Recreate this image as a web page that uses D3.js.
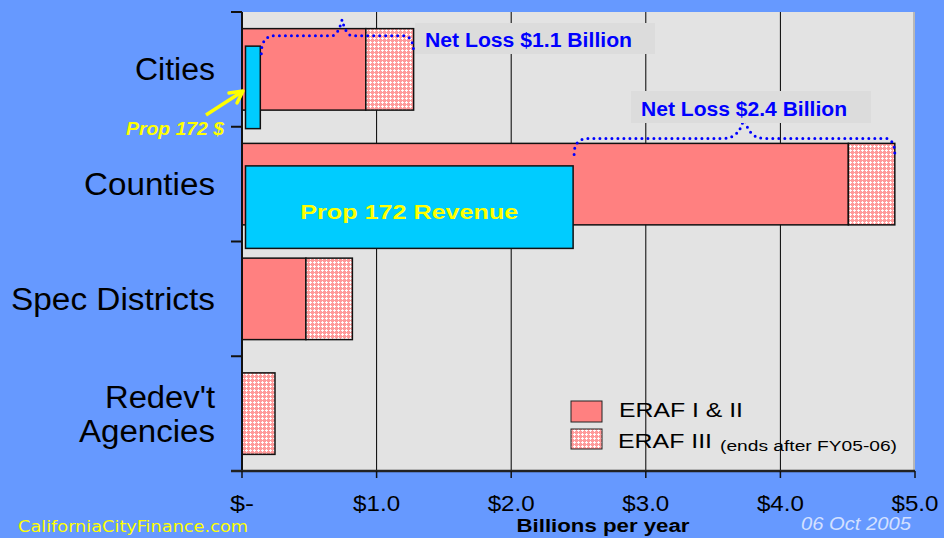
<!DOCTYPE html>
<html><head><meta charset="utf-8">
<script src="https://cdn.jsdelivr.net/npm/d3@7"></script>
<style>html,body{margin:0;padding:0;background:#6699FF;}svg{display:block;}</style>
</head><body>
<script>
// ---- data ----
const categories = ["Cities", "Counties", "Spec Districts", "Redev't Agencies"];
const erafI_II   = [0.92, 4.505, 0.475, 0];
const erafIII    = [0.355, 0.345, 0.345, 0.245];
const prop172    = [0.136, 2.46, null, null];
const xTicks     = [0, 1, 2, 3, 4, 5];
const xTickLabels = ["$-", "$1.0", "$2.0", "$3.0", "$4.0", "$5.0"];
const netLossLabels = ["Net Loss $1.1 Billion", "Net Loss $2.4 Billion", null, null];

const W = 944, H = 538;
const svg = d3.select("body").append("svg").attr("width", W).attr("height", H);
svg.append("rect").attr("width", W).attr("height", H).attr("fill", "#6699FF");

const defs = svg.append("defs");
const pat = defs.append("pattern").attr("id", "hatch").attr("patternUnits", "userSpaceOnUse")
  .attr("width", 4).attr("height", 4);
pat.append("rect").attr("width", 4).attr("height", 4).attr("fill", "#ff9a9a");
pat.append("rect").attr("x", 1).attr("y", 2).attr("width", 3).attr("height", 1).attr("fill", "#fff").attr("opacity", 0.95);
pat.append("rect").attr("x", 2).attr("y", 1).attr("width", 1).attr("height", 3).attr("fill", "#fff").attr("opacity", 0.95);

const x = d3.scaleLinear().domain([0, 5]).range([242, 915]);
const yTop = 12, yBot = 471;
const y = d3.scaleBand().domain(categories).range([yTop, yBot]).paddingInner(0.29).paddingOuter(0.145);
const step = y.step();

// plot area
svg.append("rect").attr("x", x(0)).attr("y", yTop).attr("width", x(5) - x(0)).attr("height", yBot - yTop)
  .attr("fill", "#e3e3e3");
svg.append("line").attr("x1", x(5)-1).attr("x2", x(5)-1).attr("y1", yTop).attr("y2", yBot).attr("stroke", "#b8b8b8").attr("stroke-width", 2);

// gridlines
svg.append("g").selectAll("line").data(xTicks.slice(1, 5)).join("line")
  .attr("x1", d => x(d)).attr("x2", d => x(d)).attr("y1", yTop).attr("y2", yBot)
  .attr("stroke", "#000").attr("stroke-width", 1);

const font = "'Liberation Sans', Arial, sans-serif";

// bars ERAF I & II
const rows = categories.map((c, i) => ({c, i, a: erafI_II[i], b: erafIII[i], p: prop172[i]}));
svg.append("g").selectAll("rect").data(rows.filter(d => d.a > 0)).join("rect")
  .attr("x", d => x(0)).attr("y", d => y(d.c)).attr("width", d => x(d.a) - x(0)).attr("height", y.bandwidth())
  .attr("fill", "#ff8080").attr("stroke", "#111").attr("stroke-width", 1.5);
// ERAF III
svg.append("g").selectAll("rect").data(rows).join("rect")
  .attr("x", d => x(d.a)).attr("y", d => y(d.c)).attr("width", d => x(d.a + d.b) - x(d.a)).attr("height", y.bandwidth())
  .attr("fill", "url(#hatch)").attr("stroke", "#111").attr("stroke-width", 1.5);

// Prop 172 bars
const cyOffs = [17.5, 22.5], cyH = 82.5;
svg.append("g").selectAll("rect").data(rows.filter(d => d.p != null)).join("rect")
  .attr("x", d => x(0) + 3.5).attr("y", d => y(d.c) + cyOffs[d.i]).attr("width", d => x(d.p) - x(0) - 3.5).attr("height", cyH)
  .attr("fill", "#00ccff").attr("stroke", "#111").attr("stroke-width", 1.5);

// axes
svg.append("line").attr("x1", x(0)).attr("x2", x(0)).attr("y1", yTop).attr("y2", yBot).attr("stroke", "#111").attr("stroke-width", 2);
const bounds = d3.range(categories.length + 1).map(k => yTop + k * step);
svg.append("g").selectAll("line").data(bounds.slice(0, 4)).join("line")
  .attr("x1", x(0) - 11).attr("x2", x(0)).attr("y1", d => d).attr("y2", d => d).attr("stroke", "#111").attr("stroke-width", 2);
svg.append("line").attr("x1", x(0) - 11).attr("x2", x(5)).attr("y1", yBot).attr("y2", yBot).attr("stroke", "#222").attr("stroke-width", 2.5);
svg.append("g").selectAll("line").data(xTicks).join("line")
  .attr("x1", d => x(d)).attr("x2", d => x(d)).attr("y1", yBot).attr("y2", yBot + 7).attr("stroke", "#111").attr("stroke-width", 1.5);
svg.append("g").selectAll("text").data(xTicks).join("text")
  .attr("x", d => x(d)).attr("y", 511).attr("text-anchor", "middle")
  .attr("font-family", font).attr("font-size", 22).attr("fill", "#000")
  .attr("textLength", (d, i) => i === 0 ? 24 : 47).attr("lengthAdjust", "spacingAndGlyphs")
  .text((d, i) => xTickLabels[i]);

// category labels
const catLines = [["Cities"], ["Counties"], ["Spec Districts"], ["Redev't", "Agencies"]];
const catWidths = [[80], [131], [204], [110, 136]];
categories.forEach((c, i) => {
  const lines = catLines[i];
  const mid = y(c) + y.bandwidth() / 2;
  const lh = 34;
  lines.forEach((ln, j) => {
    svg.append("text").attr("x", 215).attr("y", mid + 11 + (j - (lines.length - 1) / 2) * lh)
      .attr("text-anchor", "end").attr("font-family", font).attr("font-size", 31).attr("fill", "#000")
      .attr("textLength", catWidths[i][j]).attr("lengthAdjust", "spacingAndGlyphs")
      .text(ln);
  });
});

// braces + net loss labels
function bracePath(x0, x1, yb, yh, ypk, pw) {
  const xm = (x0 + x1) / 2 + (x1 - x0) * 0.03;
  return `M${x0},${yb} Q${x0},${yh} ${x0 + 14},${yh} L${xm - pw},${yh} Q${xm - 4},${yh} ${xm},${ypk} Q${xm + 4},${yh} ${xm + pw},${yh} L${x1 - 10},${yh} Q${x1},${yh} ${x1},${yb}`;
}
// Cities
{
  const r = rows[0];
  const yb = y(r.c);
  svg.append("path").attr("d", bracePath(x(r.p) + 1, x(r.a + r.b), yb + 25, yb + 7, yb - 9, 10))
    .attr("fill", "none").attr("stroke", "#0000ff").attr("stroke-width", 3)
    .attr("stroke-linecap", "round").attr("stroke-dasharray", "0 6");
  svg.append("rect").attr("x", 415).attr("y", 23).attr("width", 240).attr("height", 31).attr("fill", "#dcdcdc");
  svg.append("text").attr("x", 425).attr("y", 47).attr("font-family", font).attr("font-weight", "bold")
    .attr("font-size", 20).attr("fill", "#0000ff").attr("textLength", 207).attr("lengthAdjust", "spacingAndGlyphs")
    .text(netLossLabels[0]);
}
// Counties
{
  const r = rows[1];
  const yb = y(r.c);
  svg.append("path").attr("d", bracePath(x(r.p) + 1, x(r.a + r.b), yb + 11, yb - 5, yb - 27, 20))
    .attr("fill", "none").attr("stroke", "#0000ff").attr("stroke-width", 3)
    .attr("stroke-linecap", "round").attr("stroke-dasharray", "0 6");
  svg.append("rect").attr("x", 631).attr("y", 91).attr("width", 240).attr("height", 32).attr("fill", "#dcdcdc");
  svg.append("text").attr("x", 641).attr("y", 116).attr("font-family", font).attr("font-weight", "bold")
    .attr("font-size", 20).attr("fill", "#0000ff").attr("textLength", 206).attr("lengthAdjust", "spacingAndGlyphs")
    .text(netLossLabels[1]);
  // Prop 172 Revenue label
  svg.append("text").attr("x", (x(0) + 3.5 + x(r.p)) / 2).attr("y", yb + cyOffs[1] + cyH / 2 + 12)
    .attr("text-anchor", "middle").attr("font-family", font).attr("font-weight", "bold")
    .attr("font-size", 20).attr("fill", "#ffff00").attr("textLength", 218).attr("lengthAdjust", "spacingAndGlyphs")
    .text("Prop 172 Revenue");
}

// Prop 172 $ annotation
svg.append("text").attr("x", 126).attr("y", 135).attr("font-family", font).attr("font-weight", "bold")
  .attr("font-style", "italic").attr("font-size", 18).attr("fill", "#ffff00")
  .attr("textLength", 98).attr("lengthAdjust", "spacingAndGlyphs").text("Prop 172 $");
svg.append("line").attr("x1", 206).attr("y1", 115).attr("x2", 240).attr("y2", 93)
  .attr("stroke", "#ffff00").attr("stroke-width", 3.5);
svg.append("path").attr("d", "M243,91 L229,93 M243,91 L237,103")
  .attr("stroke", "#ffff00").attr("stroke-width", 3.5).attr("fill", "none").attr("stroke-linecap", "round");

// legend
const lg = svg.append("g");
lg.append("rect").attr("x", 571).attr("y", 401).attr("width", 31).attr("height", 21).attr("fill", "#ff8080").attr("stroke", "#222").attr("stroke-width", 1);
lg.append("rect").attr("x", 571).attr("y", 429).attr("width", 31).attr("height", 20).attr("fill", "url(#hatch)").attr("stroke", "#222").attr("stroke-width", 1);
lg.append("text").attr("x", 619).attr("y", 417).attr("font-family", font).attr("font-size", 20).attr("fill", "#000")
  .attr("textLength", 124).attr("lengthAdjust", "spacingAndGlyphs").text("ERAF I & II");
lg.append("text").attr("x", 618).attr("y", 448).attr("font-family", font).attr("font-size", 20).attr("fill", "#000")
  .attr("textLength", 94).attr("lengthAdjust", "spacingAndGlyphs").text("ERAF III");
lg.append("text").attr("x", 720).attr("y", 451).attr("font-family", font).attr("font-size", 14).attr("fill", "#000")
  .attr("textLength", 177).attr("lengthAdjust", "spacingAndGlyphs").text("(ends after FY05-06)");

// footer
svg.append("text").attr("x", 603).attr("y", 532).attr("text-anchor", "middle").attr("font-family", font)
  .attr("font-weight", "bold").attr("font-size", 18).attr("fill", "#000")
  .attr("textLength", 173).attr("lengthAdjust", "spacingAndGlyphs").text("Billions per year");
svg.append("text").attr("x", 18).attr("y", 532).attr("font-family", "'DejaVu Sans Condensed', 'DejaVu Sans', sans-serif")
  .attr("font-size", 16).attr("fill", "#ffff00")
  .attr("textLength", 230).attr("lengthAdjust", "spacingAndGlyphs").text("CaliforniaCityFinance.com");
svg.append("text").attr("x", 801).attr("y", 530).attr("font-family", font).attr("font-style", "italic")
  .attr("font-size", 18).attr("fill", "#d3e0ff")
  .attr("textLength", 110).attr("lengthAdjust", "spacingAndGlyphs").text("06 Oct 2005");
</script>
</body></html>
